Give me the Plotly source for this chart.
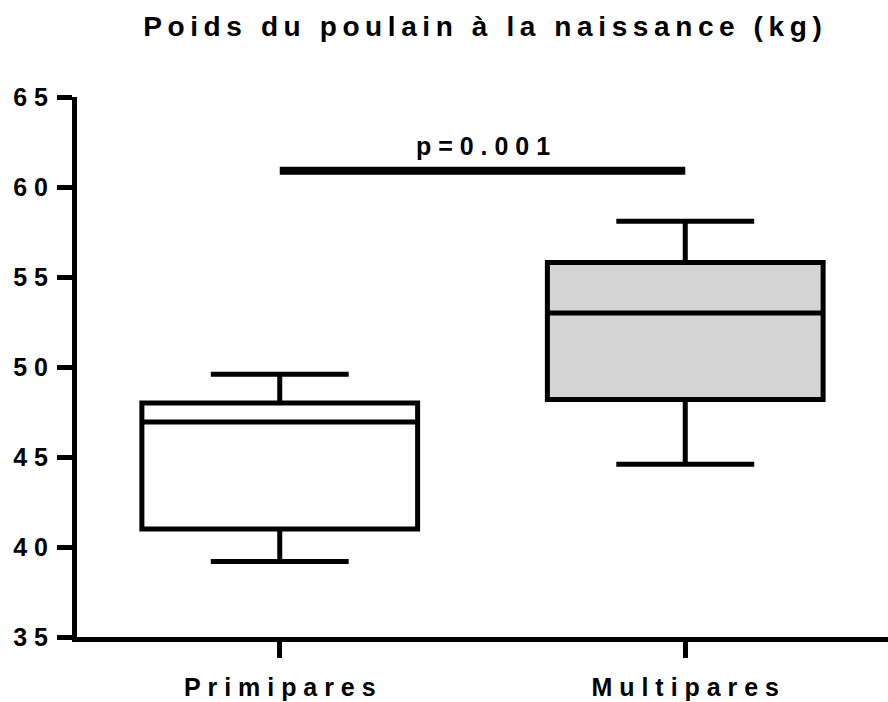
import plotly.graph_objects as go

# Foal birth weight (kg) summary per group
groups = ["Primipares", "Multipares"]
w_min = [39.2, 44.6]
w_q1 = [41.0, 48.2]
w_median = [46.95, 53.0]
w_q3 = [48.0, 55.8]
w_max = [49.6, 58.1]
fills = ["white", "#d4d4d4"]

p_text = "p=0.001"
p_level = 60.9

title_text = "Poids du poulain à la naissance (kg)"
y_ticks = [35, 40, 45, 50, 55, 60, 65]

FONT = "Liberation Sans, Arial, sans-serif"
TITLE_SIZE = 28
SIZE = 25


def spaced(s, gap, word):
    """Emulate wide letter tracking by putting a narrow space between glyphs."""
    out = []
    for i, ch in enumerate(s):
        if ch == " ":
            out.append(word)
        else:
            out.append(ch)
            if i < len(s) - 1 and s[i + 1] != " ":
                out.append(gap)
    return "<b>" + "".join(out) + "</b>"


def title_spaced(s):
    return spaced(s, "\u2009", "\u2009\u00a0\u2009")


def label_spaced(s):
    return spaced(s, "\u00a0", "\u00a0\u00a0")


fig = go.Figure()

for i, g in enumerate(groups):
    fig.add_trace(go.Box(
        x=[g],
        q1=[w_q1[i]], median=[w_median[i]], q3=[w_q3[i]],
        lowerfence=[w_min[i]], upperfence=[w_max[i]],
        fillcolor=fills[i],
        line=dict(color="black", width=5),
        width=0.68,
        whiskerwidth=0.5,
        boxpoints=False,
        showlegend=False,
        hoverinfo="skip",
    ))

# significance bar between the two groups
fig.add_trace(go.Scatter(
    x=groups, y=[p_level, p_level], mode="lines",
    line=dict(color="black", width=8),
    showlegend=False, hoverinfo="skip",
))

fig.add_annotation(
    x=0.5, y=p_level, xref="x", yref="y",
    text=label_spaced(p_text),
    showarrow=False, yanchor="bottom", yshift=9,
    font=dict(family=FONT, size=SIZE, color="black"),
)

fig.update_layout(
    width=888, height=702,
    margin=dict(l=77, r=0, t=97, b=65),
    paper_bgcolor="white", plot_bgcolor="white",
    title=dict(
        text=title_spaced(title_text),
        x=0.5, xref="paper", y=1 - 26 / 702, yref="container", yanchor="middle",
        font=dict(family=FONT, size=TITLE_SIZE, color="black"),
    ),
    font=dict(family=FONT, color="black"),
)

fig.update_xaxes(
    type="category",
    range=[-0.5, 1.5],
    tickmode="array", tickvals=groups,
    ticktext=[label_spaced(g) for g in groups],
    ticks="outside", ticklen=16, tickwidth=5, tickcolor="black",
    showline=True, linewidth=5, linecolor="black",
    showgrid=False, zeroline=False, automargin=False,
    tickfont=dict(family=FONT, size=SIZE, color="black"),
    ticklabelstandoff=8,
)

fig.update_yaxes(
    range=[35, 65],
    tickmode="array", tickvals=y_ticks,
    ticktext=[label_spaced(str(v)) for v in y_ticks],
    ticks="outside", ticklen=15, tickwidth=5, tickcolor="black",
    showline=True, linewidth=5, linecolor="black",
    showgrid=False, zeroline=False, automargin=False,
    tickfont=dict(family=FONT, size=SIZE, color="black"),
    ticklabelstandoff=4,
)

fig.write_html("out.html")
